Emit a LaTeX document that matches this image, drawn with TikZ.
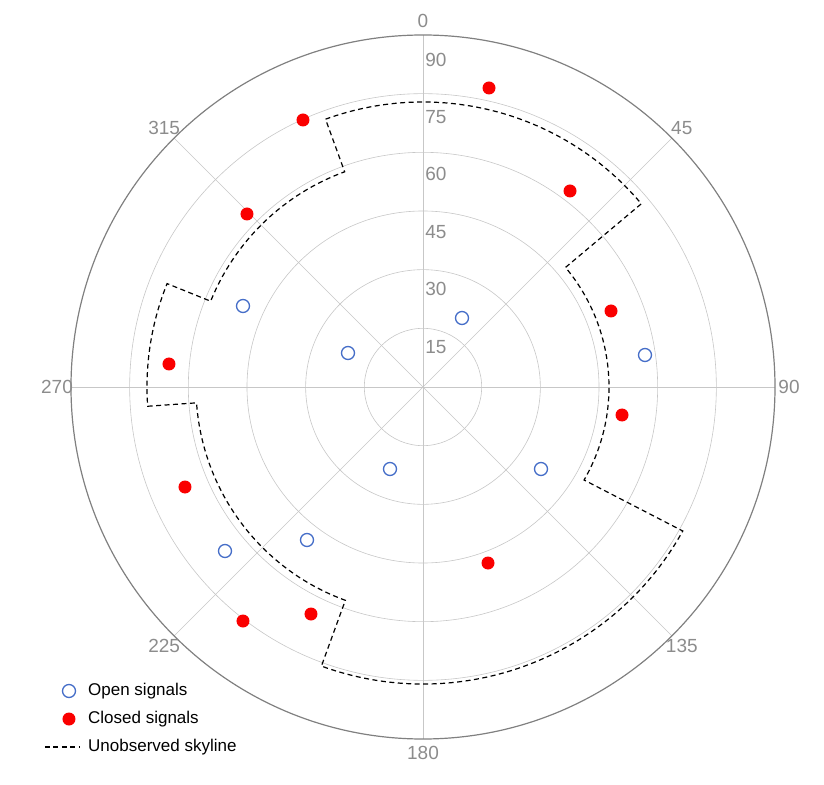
\documentclass[tikz,border=0pt]{standalone}
\usepackage{fontspec}
\setmainfont{Liberation Sans}
\usepackage{tikz}

\tikzset{
	ring/.style={draw=black!22, line width=0.6pt},
	spoke/.style={draw=black!22, line width=0.6pt},
	axlabel/.style={text=black!45, font=\fontsize{19}{22}\selectfont, inner sep=0pt},
	opensig/.style={shape=circle, draw={rgb,255:red,70;green,110;blue,200}, line width=1.3pt, minimum size=13pt, inner sep=0pt},
	closedsig/.style={shape=circle, fill={rgb,255:red,250;green,0;blue,0}, minimum size=13pt, inner sep=0pt},
	skyline/.style={draw=black, dash pattern=on 5pt off 3.5pt, line width=1.2pt},
	legtext/.style={anchor=west, font=\fontsize{17}{20}\selectfont, inner sep=0pt}
}

\begin{document}
\begin{tikzpicture}[x=1pt,y=1pt]
	\useasboundingbox (-423,-397) rectangle (401,387);

	% grid
	\foreach \k in {1,...,5}
		\draw[ring] (0,0) circle ({58.67*\k});
	\foreach \b in {0,45,...,315}
		\draw[spoke] (0,0) -- ({90-\b}:352);
	\draw[black!50, line width=1.2pt] (0,0) circle (352);

	\foreach \b in {0,45,...,315}
		\node[axlabel] (b\b) at ({90-\b}:366) {\b};
	\foreach \k/\e in {1/15,2/30,3/45,4/60,5/75,6/90}
		\node[axlabel] (e\e) at (13,{57.4*\k-17}) {\e};

	% skyline
	\draw[skyline] (110:285) arc[start angle=110, end angle=40, radius=285]
		-- (40:186) arc[start angle=40, end angle=-30, radius=186]
		-- (-29:297) arc[start angle=-29, end angle=-110, radius=297]
		-- (-110:227) arc[start angle=-110, end angle=-176, radius=227]
		-- (-176:276) arc[start angle=-176, end angle=-202, radius=276]
		-- (-202:229) arc[start angle=-202, end angle=-250, radius=229]
		-- cycle;

	% open signals
	\node[opensig] (o1) at (39,69)     {};
	\node[opensig] (o2) at (-75,34)    {};
	\node[opensig] (o3) at (222,32)    {};
	\node[opensig] (o4) at (-180,81)   {};
	\node[opensig] (o5) at (118,-82)   {};
	\node[opensig] (o6) at (-33,-82)   {};
	\node[opensig] (o7) at (-116,-153) {};
	\node[opensig] (o8) at (-198,-164) {};

	% closed signals
	\node[closedsig] (c1) at (66,299)     {};
	\node[closedsig] (c2) at (-120,267)   {};
	\node[closedsig] (c3) at (147,196)    {};
	\node[closedsig] (c4) at (-176,173)   {};
	\node[closedsig] (c5) at (188,76)     {};
	\node[closedsig] (c6) at (-254,23)    {};
	\node[closedsig] (c7) at (199,-28)    {};
	\node[closedsig] (c8) at (-238,-100)  {};
	\node[closedsig] (c9) at (65,-176)    {};
	\node[closedsig] (c10) at (-180,-234) {};
	\node[closedsig] (c11) at (-112,-227) {};

	% legend
	\node[opensig] (lo) at (-354,-304) {};
	\node[legtext] (lot) at (-335,-304) {Open signals};
	\node[closedsig] (lc) at (-354,-332) {};
	\node[legtext] (lct) at (-335,-332) {Closed signals};
	\coordinate (ls1) at (-378,-360);
	\coordinate (ls2) at (-343,-360);
	\draw[skyline] (ls1) -- (ls2);
	\node[legtext] (lst) at (-335,-360) {Unobserved skyline};
\end{tikzpicture}
\end{document}
